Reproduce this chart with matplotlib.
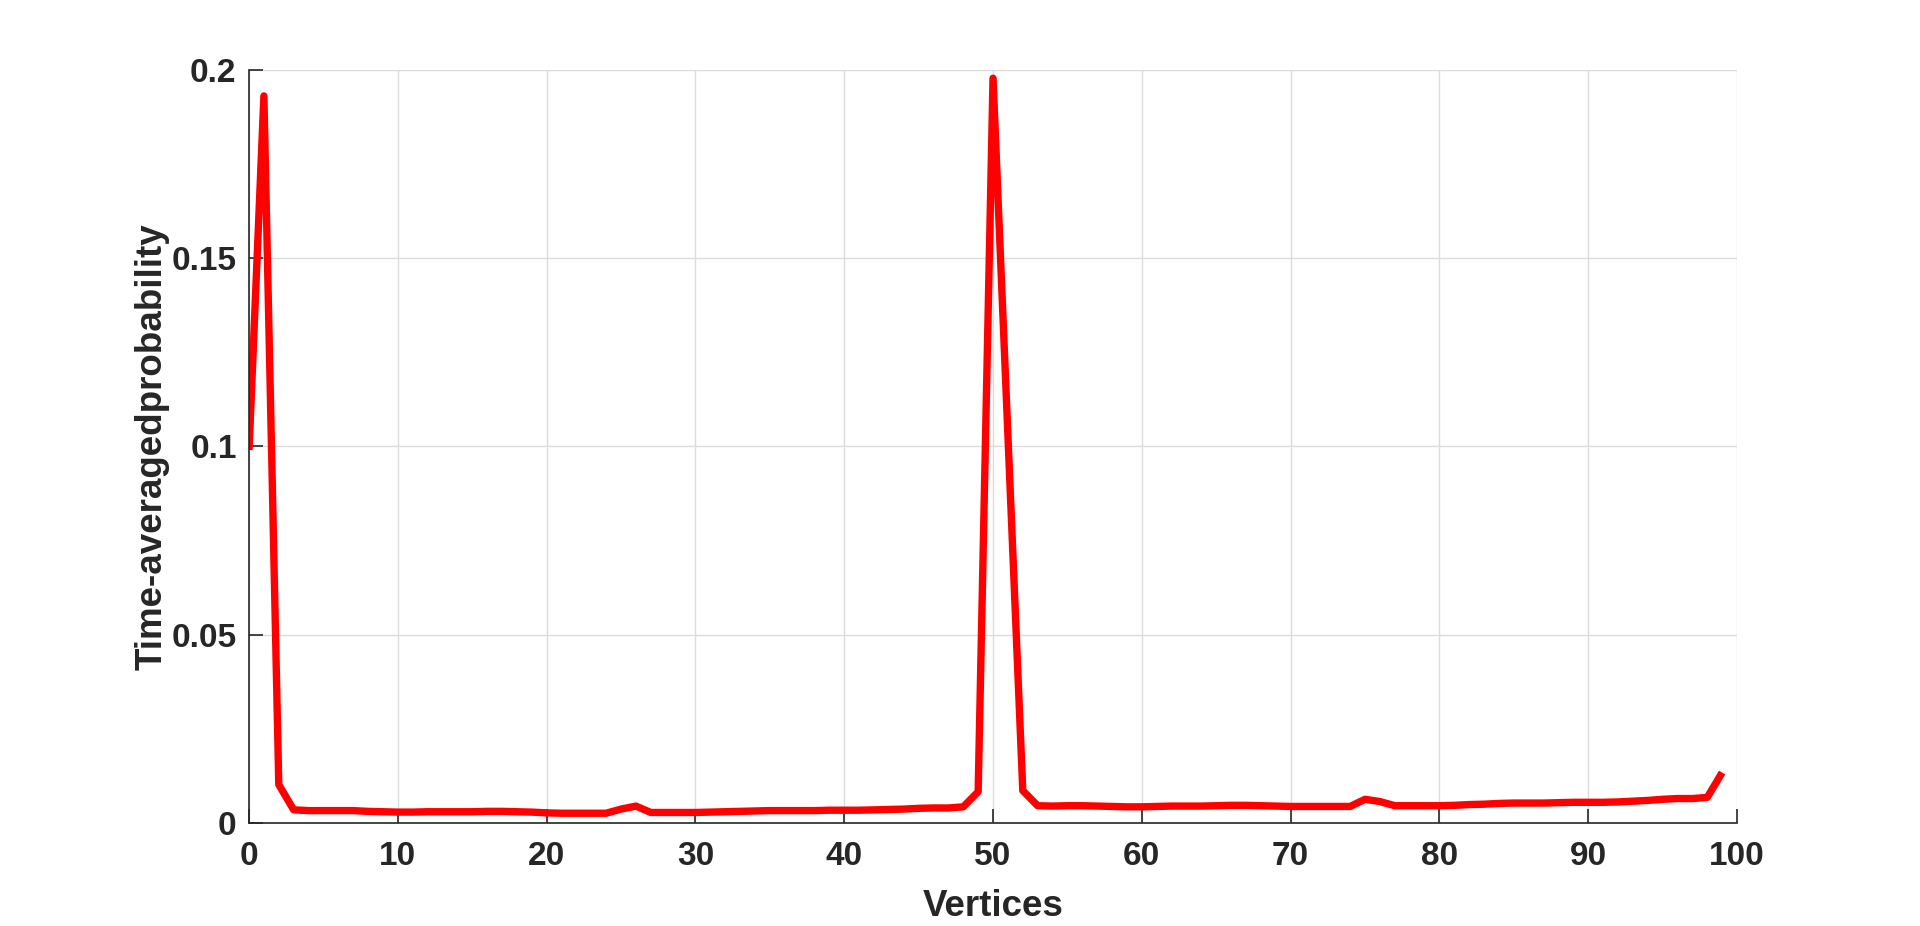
import matplotlib.pyplot as plt

# ---------------------------------------------------
# Data (vertex index -> probability)
# ---------------------------------------------------
vertices = list(range(100))
prob = [
    0.0990, 0.1930, 0.0102, 0.0035, 0.0033, 0.0033, 0.0033, 0.0033, 0.0031, 0.0030,
    0.0029, 0.0029, 0.0030, 0.0030, 0.0030, 0.0030, 0.0031, 0.0031, 0.0030, 0.0029,
    0.0027, 0.0026, 0.0026, 0.0026, 0.0026, 0.0037, 0.0045, 0.0028, 0.0028, 0.0028,
    0.0028, 0.0029, 0.0030, 0.0031, 0.0032, 0.0033, 0.0033, 0.0033, 0.0033, 0.0034,
    0.0034, 0.0034, 0.0035, 0.0036, 0.0037, 0.0039, 0.0040, 0.0040, 0.0043, 0.0083,
    0.1977, 0.1030, 0.0086, 0.0046, 0.0045, 0.0046, 0.0046, 0.0045, 0.0044, 0.0043,
    0.0043, 0.0044, 0.0045, 0.0045, 0.0045, 0.0046, 0.0047, 0.0047, 0.0046, 0.0045,
    0.0044, 0.0044, 0.0044, 0.0044, 0.0044, 0.0063, 0.0057, 0.0046, 0.0046, 0.0046,
    0.0046, 0.0047, 0.0049, 0.0050, 0.0052, 0.0053, 0.0053, 0.0053, 0.0054, 0.0055,
    0.0055, 0.0055, 0.0056, 0.0058, 0.0060, 0.0063, 0.0065, 0.0065, 0.0068, 0.0134,
]
xticks = [0, 10, 20, 30, 40, 50, 60, 70, 80, 90, 100]
yticks = [0, 0.05, 0.1, 0.15, 0.2]
ytick_labels = ['0', '0.05', '0.1', '0.15', '0.2']

plt.rcParams['font.family'] = ['Liberation Sans', 'DejaVu Sans']
dark = '#262626'

fig = plt.figure(figsize=(19.2, 9.26), dpi=100)
ax = fig.add_axes([0.1297, 0.1112, 0.775, 0.8137])

ax.plot(vertices, prob, color='#ff0000', linewidth=5.3,
        solid_joinstyle='round', solid_capstyle='butt')

ax.set_xlim(0, 100)
ax.set_ylim(0, 0.2)
ax.set_xticks(xticks)
ax.set_yticks(yticks)
ax.set_yticklabels(ytick_labels)

ax.grid(True, color='#dcdcdc', linewidth=1.0)
ax.set_axisbelow(True)

for side in ['top', 'right']:
    ax.spines[side].set_visible(False)
for side in ['bottom', 'left']:
    ax.spines[side].set_color(dark)
    ax.spines[side].set_linewidth(1.2)

ax.tick_params(direction='in', length=10, width=1.2, color=dark,
               labelsize=24, labelcolor=dark)
ax.tick_params(axis='x', pad=13)
ax.tick_params(axis='y', pad=9)
for lbl in ax.get_xticklabels() + ax.get_yticklabels():
    lbl.set_fontweight('bold')

ax.set_xlabel('Vertices', fontsize=26.5, fontweight='bold', color=dark, labelpad=12)
ax.set_ylabel('Time-averagedprobability', fontsize=26.5, fontweight='bold', color=dark, labelpad=1)

fig.savefig('out.png', dpi=100)
